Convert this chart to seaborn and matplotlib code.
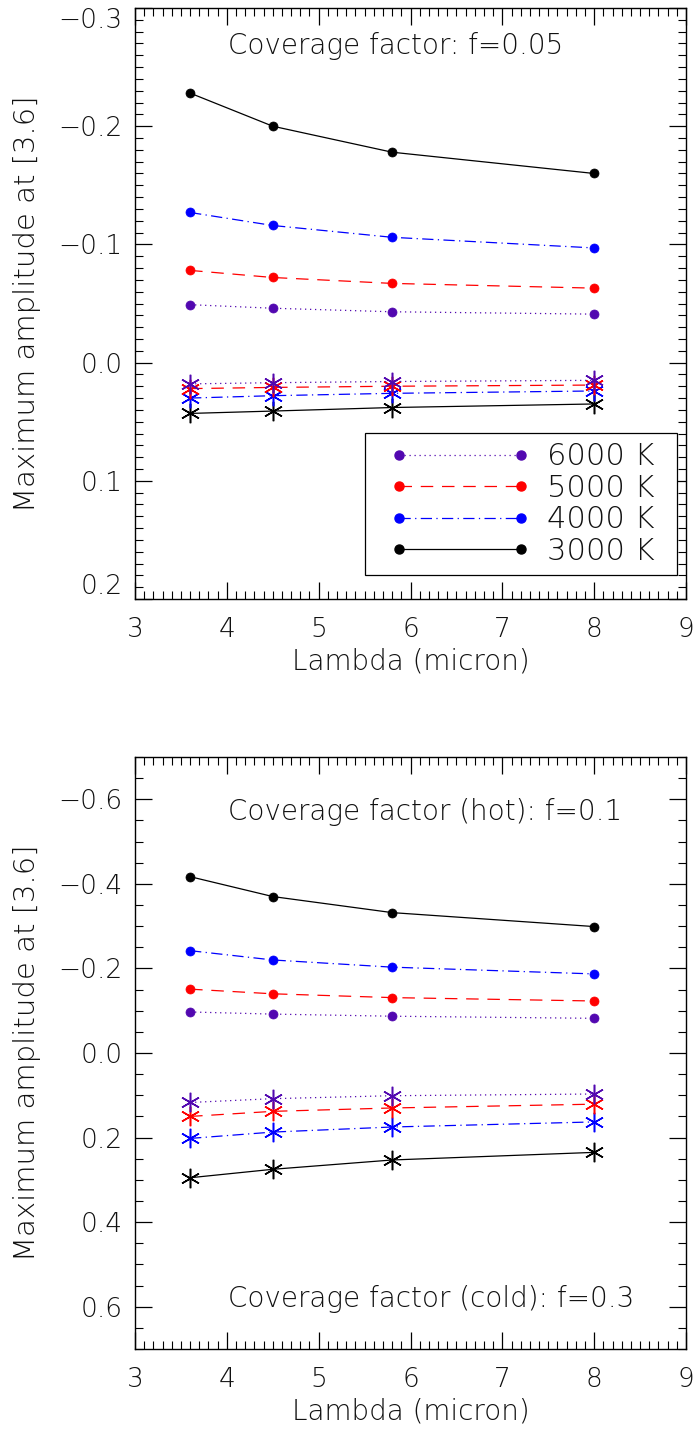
import numpy as np
import pandas as pd
import matplotlib
matplotlib.use("Agg")
import matplotlib.pyplot as plt
from matplotlib.ticker import MultipleLocator, FixedLocator, FuncFormatter
from matplotlib.lines import Line2D
from matplotlib.patches import Rectangle
import seaborn as sns

# ---- data -------------------------------------------------------------
wavelength = [3.6, 4.5, 5.8, 8.0]
temperatures = ["6000 K", "5000 K", "4000 K", "3000 K"]

# f = 0.05 spots
top_hot = {
    "3000 K": [-0.228, -0.200, -0.178, -0.160],
    "4000 K": [-0.127, -0.116, -0.106, -0.097],
    "5000 K": [-0.078, -0.072, -0.067, -0.063],
    "6000 K": [-0.049, -0.046, -0.043, -0.041],
}
top_cold = {
    "3000 K": [0.043, 0.041, 0.038, 0.035],
    "4000 K": [0.030, 0.028, 0.026, 0.024],
    "5000 K": [0.022, 0.021, 0.020, 0.019],
    "6000 K": [0.018, 0.017, 0.016, 0.015],
}

# hot f = 0.1 / cold f = 0.3
bot_hot = {
    "3000 K": [-0.417, -0.370, -0.332, -0.299],
    "4000 K": [-0.242, -0.220, -0.203, -0.187],
    "5000 K": [-0.151, -0.140, -0.131, -0.123],
    "6000 K": [-0.097, -0.092, -0.087, -0.082],
}
bot_cold = {
    "3000 K": [0.295, 0.275, 0.253, 0.235],
    "4000 K": [0.202, 0.187, 0.175, 0.163],
    "5000 K": [0.150, 0.138, 0.130, 0.121],
    "6000 K": [0.117, 0.108, 0.101, 0.097],
}

top_yticks = [-0.3, -0.2, -0.1, 0.0, 0.1, 0.2]
bot_yticks = [-0.6, -0.4, -0.2, 0.0, 0.2, 0.4, 0.6]

# ---- styling ----------------------------------------------------------
colors = {"6000 K": "#5208b0", "5000 K": "#ff0000",
          "4000 K": "#0000ff", "3000 K": "#000000"}
linestyles = {"6000 K": (0, (1.0, 3.0)),
              "5000 K": (0, (10.0, 7.0)),
              "4000 K": (0, (9.0, 3.5, 1.0, 3.5)),
              "3000 K": "-"}

sns.set_theme(style="ticks")
plt.rcParams["font.family"] = ["DejaVu Sans"]
plt.rcParams["font.weight"] = "light"
plt.rcParams["axes.labelweight"] = "light"
plt.rcParams["axes.linewidth"] = 1.0
plt.rcParams["axes.edgecolor"] = "black"

TEXT_COLOR = "#111111"
FS = 19

fig = plt.figure(figsize=(6.93, 14.34), dpi=100)
W, H = 693.0, 1434.0
left, right = 135 / W, 686 / W
ax_top = fig.add_axes([left, 1 - 599 / H, right - left, (599 - 8) / H])
ax_bot = fig.add_axes([left, 1 - 1349 / H, right - left, (1349 - 757) / H])


def long_form(series):
    rows = []
    for name, vals in series.items():
        for x, y in zip(wavelength, vals):
            rows.append({"lam": x, "amp": y, "temp": name})
    return pd.DataFrame(rows)


def draw(ax, hot, cold):
    dh = long_form(hot)
    dc = long_form(cold)
    for name in ["3000 K", "4000 K", "5000 K", "6000 K"]:
        c = colors[name]
        sns.lineplot(data=dh[dh.temp == name], x="lam", y="amp", ax=ax,
                     color=c, linestyle=linestyles[name], lw=0.9,
                     marker="o", ms=6.5, mec=c, mfc=c, mew=0.5,
                     legend=False, errorbar=None, sort=False)
        sns.lineplot(data=dc[dc.temp == name], x="lam", y="amp", ax=ax,
                     color=c, linestyle=linestyles[name], lw=0.9,
                     marker=(6, 2, 0), ms=14, mec=c, mfc=c, mew=1.1,
                     legend=False, errorbar=None, sort=False)


def style_axes(ax, ylo, yhi, yticks, yminor):
    ax.set_xlim(3, 9)
    ax.set_ylim(yhi, ylo)   # inverted: magnitudes
    ax.xaxis.set_major_locator(MultipleLocator(1))
    ax.xaxis.set_minor_locator(MultipleLocator(0.1))
    ax.yaxis.set_major_locator(FixedLocator(yticks))
    ax.yaxis.set_minor_locator(MultipleLocator(yminor))
    ax.yaxis.set_major_formatter(
        FuncFormatter(lambda v, p: ("%.1f" % (0.0 if abs(v) < 1e-9 else v)).replace("-", "\u2212")))
    ax.xaxis.set_major_formatter(FuncFormatter(lambda v, p: "%d" % round(v)))
    ax.tick_params(which="both", direction="in", top=True, right=True,
                   colors="black", labelcolor=TEXT_COLOR, labelsize=FS)
    ax.tick_params(which="major", length=12, width=0.9)
    ax.tick_params(axis="x", which="major", pad=13)
    ax.tick_params(axis="y", which="major", pad=9)
    ax.tick_params(which="minor", length=5.5, width=0.8)
    for s in ax.spines.values():
        s.set_visible(True)
        s.set_linewidth(1.0)
    ax.set_xlabel("Lambda (micron)", fontsize=20, color=TEXT_COLOR,
                  fontweight="light")
    ax.set_ylabel("Maximum amplitude at [3.6]", fontsize=21, color=TEXT_COLOR,
                  fontweight="light")
    ax.xaxis.set_label_coords(0.5, -0.106)
    ax.xaxis.label.set_va("center")
    ax.yaxis.set_label_coords(-0.196, 0.5)
    ax.yaxis.label.set_va("center")


draw(ax_top, top_hot, top_cold)
style_axes(ax_top, -0.3, 0.2, top_yticks, 0.01)
# labels at the ends of the y range are pulled inside the frame
ticks = ax_top.yaxis.get_major_ticks()
ticks[0].label1.set_va("top")
ticks[-1].label1.set_va("bottom")

ax_top.text(0.169, 0.936, "Coverage factor: f=0.05", transform=ax_top.transAxes,
            fontsize=20, color=TEXT_COLOR, ha="left", va="center")

# legend: entries without their own frame, boxed by a rectangle
box_x0, box_x1 = (365 - 135) / 551, (677 - 135) / 551
box_y0, box_y1 = 1 - (575 - 8) / 591, 1 - (433 - 8) / 591
ax_top.add_patch(Rectangle((box_x0, box_y0), box_x1 - box_x0, box_y1 - box_y0,
                           transform=ax_top.transAxes, fill=True, fc="white",
                           ec="black", lw=0.9, zorder=4))
handles = [Line2D([0], [0], color=colors[t], linestyle=linestyles[t], lw=0.9,
                  marker="o", ms=6.5, mfc=colors[t], mec=colors[t])
           for t in temperatures]
leg = ax_top.legend(handles, temperatures, loc="center",
                    bbox_to_anchor=((box_x0 + box_x1) / 2 + 0.002,
                                    (box_y0 + box_y1) / 2),
                    numpoints=2, handlelength=4.6, handletextpad=0.55,
                    labelspacing=0.08, borderpad=0.0, borderaxespad=0.0,
                    fontsize=22, frameon=False)
leg.set_zorder(5)
for t in leg.get_texts():
    t.set_color(TEXT_COLOR)

draw(ax_bot, bot_hot, bot_cold)
style_axes(ax_bot, -0.7, 0.7, bot_yticks, 0.05)
ax_bot.text(0.169, 0.907, "Coverage factor (hot): f=0.1", transform=ax_bot.transAxes,
            fontsize=20, color=TEXT_COLOR, ha="left", va="center")
ax_bot.text(0.169, 0.085, "Coverage factor (cold): f=0.3", transform=ax_bot.transAxes,
            fontsize=20, color=TEXT_COLOR, ha="left", va="center")

fig.savefig("out.png", dpi=100)
